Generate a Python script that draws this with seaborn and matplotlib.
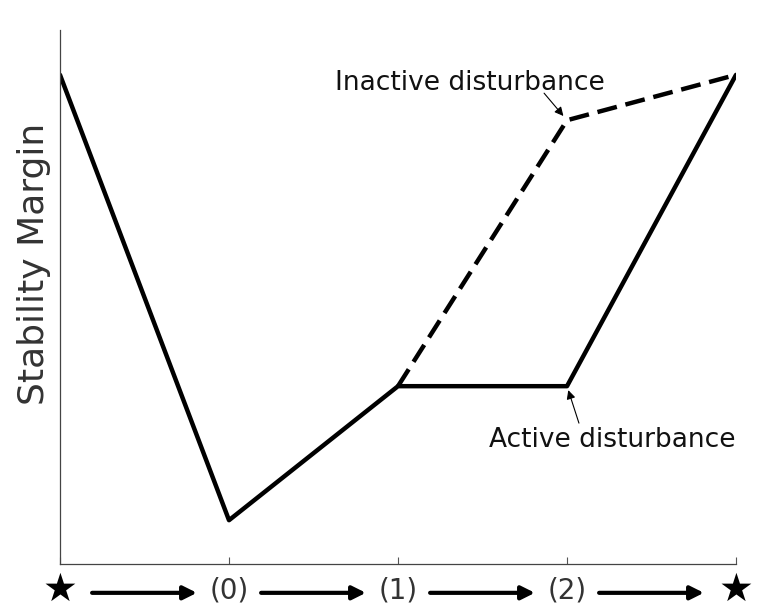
import matplotlib
matplotlib.use("Agg")
import matplotlib.pyplot as plt
import matplotlib.transforms as mtransforms
import seaborn as sns
import pandas as pd

# stages along the path (star = start / end point)
stages = ["★", "(0)", "(1)", "(2)", "★"]
stage_pos = [0, 1, 2, 3, 4]

# stability margin (0..10 scale)
active_margin = [9.16, 0.82, 3.33, 3.33, 9.16]
inactive_pos = [2, 3, 4]
inactive_margin = [3.33, 8.31, 9.16]

df_active = pd.DataFrame({"stage": stage_pos, "margin": active_margin})
df_inactive = pd.DataFrame({"stage": inactive_pos, "margin": inactive_margin})

sns.set_style("ticks")
plt.rcParams["font.family"] = ["DejaVu Sans"]

fig = plt.figure(figsize=(7.59, 6.10), dpi=100)
ax = fig.add_axes([60 / 759, 1 - 564 / 610, 676 / 759, 534 / 610])

sns.lineplot(data=df_active, x="stage", y="margin", color="black", lw=3.2, ax=ax)
sns.lineplot(data=df_inactive, x="stage", y="margin", color="black", lw=3.2,
             ax=ax, linestyle=(0, (4.5, 2.0)))

ax.set_xlim(0, 4)
ax.set_ylim(0, 10)
ax.set_yticks([])
ax.set_xticks(stage_pos)
ax.set_xticklabels([])
ax.tick_params(axis="x", direction="in", length=5, width=0.8, color="#555555")
for side in ["top", "right"]:
    ax.spines[side].set_visible(False)
for side in ["left", "bottom"]:
    ax.spines[side].set_color("#444444")
    ax.spines[side].set_linewidth(0.9)

ax.set_xlabel("")
ax.set_ylabel("Stability Margin", fontsize=26, color="#333333")
ax.yaxis.set_label_coords(-0.013, 0.562)

# stage labels and the arrows between them, under the axis
trans = mtransforms.blended_transform_factory(ax.transData, ax.transAxes)
for pos, lab in zip(stage_pos, stages):
    if lab == "★":
        ax.text(pos, -0.048, lab, transform=trans, ha="center", va="center",
                fontsize=28, color="black", clip_on=False)
    else:
        ax.text(pos, -0.05, lab, transform=trans, ha="center", va="center",
                fontsize=20, color="#333333", clip_on=False)
for pos in stage_pos[:-1]:
    ax.annotate("", xy=(pos + 0.81, -0.054), xytext=(pos + 0.19, -0.054),
                xycoords=trans, textcoords=trans, annotation_clip=False,
                arrowprops=dict(arrowstyle="-|>", color="black", lw=3,
                                mutation_scale=20, shrinkA=0, shrinkB=0))

# annotations
ax.text(1.63, 8.876, "Inactive disturbance", fontsize=19, color="#111111",
        ha="left", va="baseline")
ax.annotate("", xy=(inactive_pos[1], inactive_margin[1]), xytext=(-16.5, 19.5),
            textcoords="offset points",
            arrowprops=dict(arrowstyle="-|>", color="black", lw=0.8,
                            mutation_scale=13, shrinkA=0, shrinkB=4))
ax.text(2.536, 2.19, "Active disturbance", fontsize=19, color="#111111",
        ha="left", va="baseline")
ax.annotate("", xy=(stage_pos[3], active_margin[3]), xytext=(8.6, -26.6),
            textcoords="offset points",
            arrowprops=dict(arrowstyle="-|>", color="black", lw=0.8,
                            mutation_scale=13, shrinkA=0, shrinkB=3))

fig.savefig("out.png", dpi=100, facecolor="white")
